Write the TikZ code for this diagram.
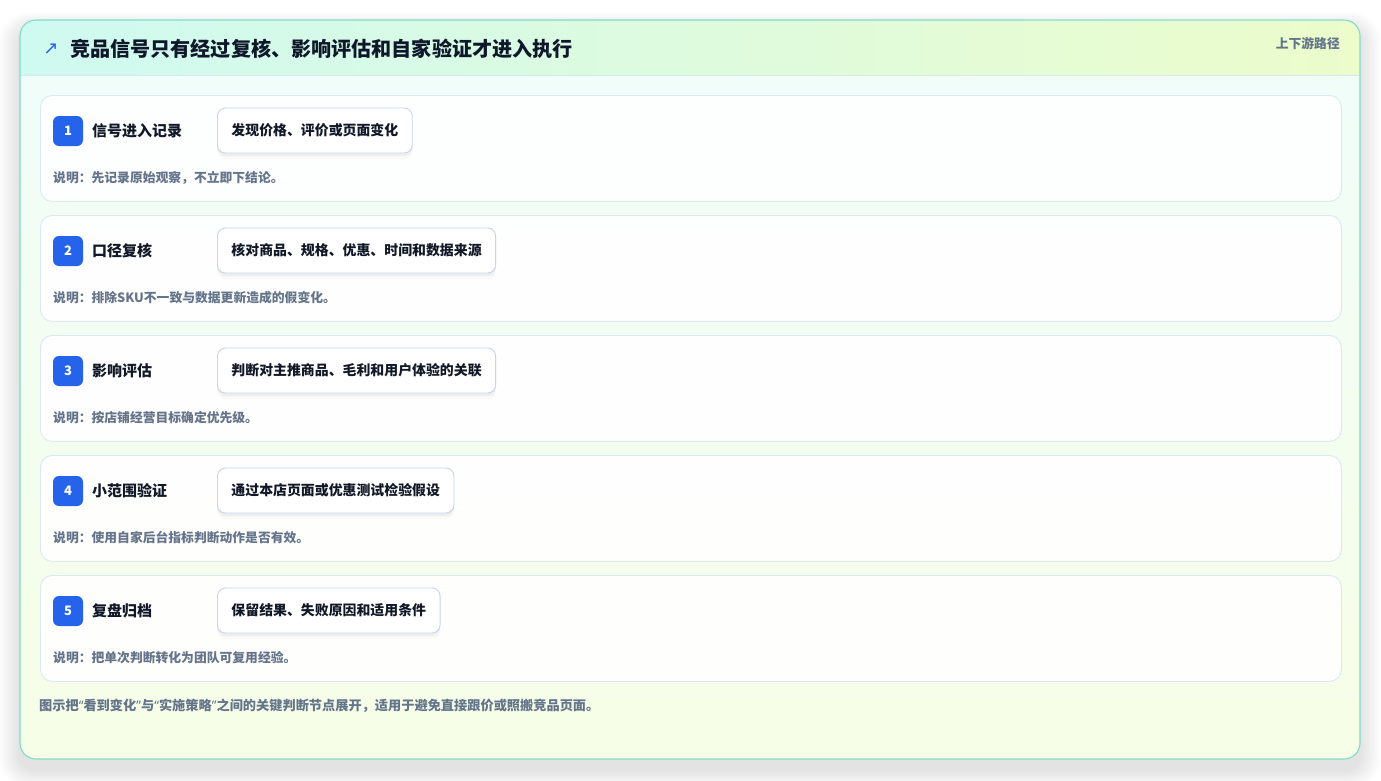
\documentclass[tikz,border=0pt]{standalone}
\usepackage{fontspec}
\setmainfont{Noto Sans CJK SC}
\newfontfamily\symfont{DejaVu Sans}
\newfontfamily\quotefont{Noto Sans}
\usetikzlibrary{shadows}
\definecolor{cardborder}{HTML}{7FDCC9}
\definecolor{hdrleft}{HTML}{CFFAF1}
\definecolor{hdrright}{HTML}{ECFCCB}
\definecolor{bodytop}{HTML}{F0FDFA}
\definecolor{bodybot}{HTML}{F7FEE7}
\definecolor{hdrline}{HTML}{D5EAEE}
\definecolor{rowborder}{HTML}{DCE8F4}
\definecolor{stepborder}{HTML}{C3D5EF}
\definecolor{badgeblue}{HTML}{2563EB}
\definecolor{titlecol}{HTML}{0F172A}
\definecolor{labelcol}{HTML}{111827}
\definecolor{notecol}{HTML}{64748B}
\tikzset{
  rowbox/.style={draw=rowborder, line width=0.9pt, fill=white, fill opacity=0.9, rounded corners=12pt,
    minimum width=1301pt, minimum height=106pt, inner sep=0pt, anchor=north west},
  badge/.style={fill=badgeblue, rounded corners=6pt, minimum size=30pt, inner sep=0pt,
    text=white, font=\fontsize{13}{15}\selectfont\bfseries},
  lbl/.style={anchor=west, inner sep=0pt, text=labelcol, font=\fontsize{15}{17}\selectfont\bfseries},
  stepbox/.style={draw=stepborder, line width=0.9pt, fill=white, rounded corners=8pt,
    minimum height=45pt, inner xsep=14pt, inner ysep=0pt, anchor=west, text=labelcol,
    font=\fontsize{13.9}{16}\selectfont\bfseries,
    drop shadow={shadow xshift=0pt, shadow yshift=-3pt, opacity=0.04, fill=black},
    drop shadow={shadow xshift=0pt, shadow yshift=-6pt, opacity=0.025, fill=black}},
  notetext/.style={anchor=west, inner sep=0pt, text=notecol, font=\fontsize{12.8}{15}\selectfont\bfseries},
}
\begin{document}
\begin{tikzpicture}[x=1pt,y=-1pt]
\useasboundingbox (0,0) rectangle (1381,780);
\fill[white] (0,0) rectangle (1381,780);
% card shadow
\foreach \i in {1,...,14}{
  \fill[black, opacity=0.008, rounded corners={16pt+\i pt}]
    ({20-1.5*\i},{30-1.3*\i}) rectangle ({1360+1.5*\i},{770+1.3*\i});
}
% card body
\path[top color=bodytop, bottom color=bodybot, rounded corners=16pt]
  (20,20) rectangle (1360,759);
% header
\begin{scope}
  \clip[rounded corners=16pt] (20,20) rectangle (1360,759);
  \path[left color=hdrleft, right color=hdrright] (20,20) rectangle (1360,75);
\end{scope}
\draw[hdrline, line width=0.9pt] (21,75) -- (1359,75);
\draw[cardborder, line width=1.1pt, rounded corners=16pt] (20,20) rectangle (1360,759);
% header texts
\node[inner sep=0pt, text=badgeblue, font=\symfont\fontsize{18}{20}\selectfont] (arrow) at (51,49) {↗};
\node[anchor=west, inner sep=0pt, text=titlecol, font=\fontsize{20.1}{23}\selectfont\bfseries] (title) at (70,49)
  {竞品信号只有经过复核、影响评估和自家验证才进入执行};
\node[anchor=east, inner sep=0pt, text=notecol, font=\fontsize{12.8}{15}\selectfont\bfseries] (tag) at (1340,44) {上下游路径};
% rows
\foreach \n/\lab/\step/\note in {
  1/信号进入记录/发现价格、评价或页面变化/先记录原始观察，不立即下结论。,
  2/口径复核/核对商品、规格、优惠、时间和数据来源/排除SKU不一致与数据更新造成的假变化。,
  3/影响评估/判断对主推商品、毛利和用户体验的关联/按店铺经营目标确定优先级。,
  4/小范围验证/通过本店页面或优惠测试检验假设/使用自家后台指标判断动作是否有效。,
  5/复盘归档/保留结果、失败原因和适用条件/把单次判断转化为团队可复用经验。}{
  \pgfmathsetmacro{\y}{95+120*(\n-1)}
  \node[rowbox] (row\n) at (40,\y) {};
  \node[badge] (badge\n) at (68,\y+36) {\n};
  \node[lbl] (label\n) at (92,\y+36) {\lab};
  \node[stepbox] (step\n) at (217,\y+35.5) {\step};
  \node[notetext] (note\n) at (53,\y+83) {说明：\note};
}
\node[anchor=west, inner sep=0pt, text=notecol, font=\fontsize{13.2}{15}\selectfont\bfseries] (footer) at (39,706)
  {图示把{\quotefont“}看到变化{\quotefont”}与{\quotefont“}实施策略{\quotefont”}之间的关键判断节点展开，适用于避免直接跟价或照搬竞品页面。};
\end{tikzpicture}
\end{document}
